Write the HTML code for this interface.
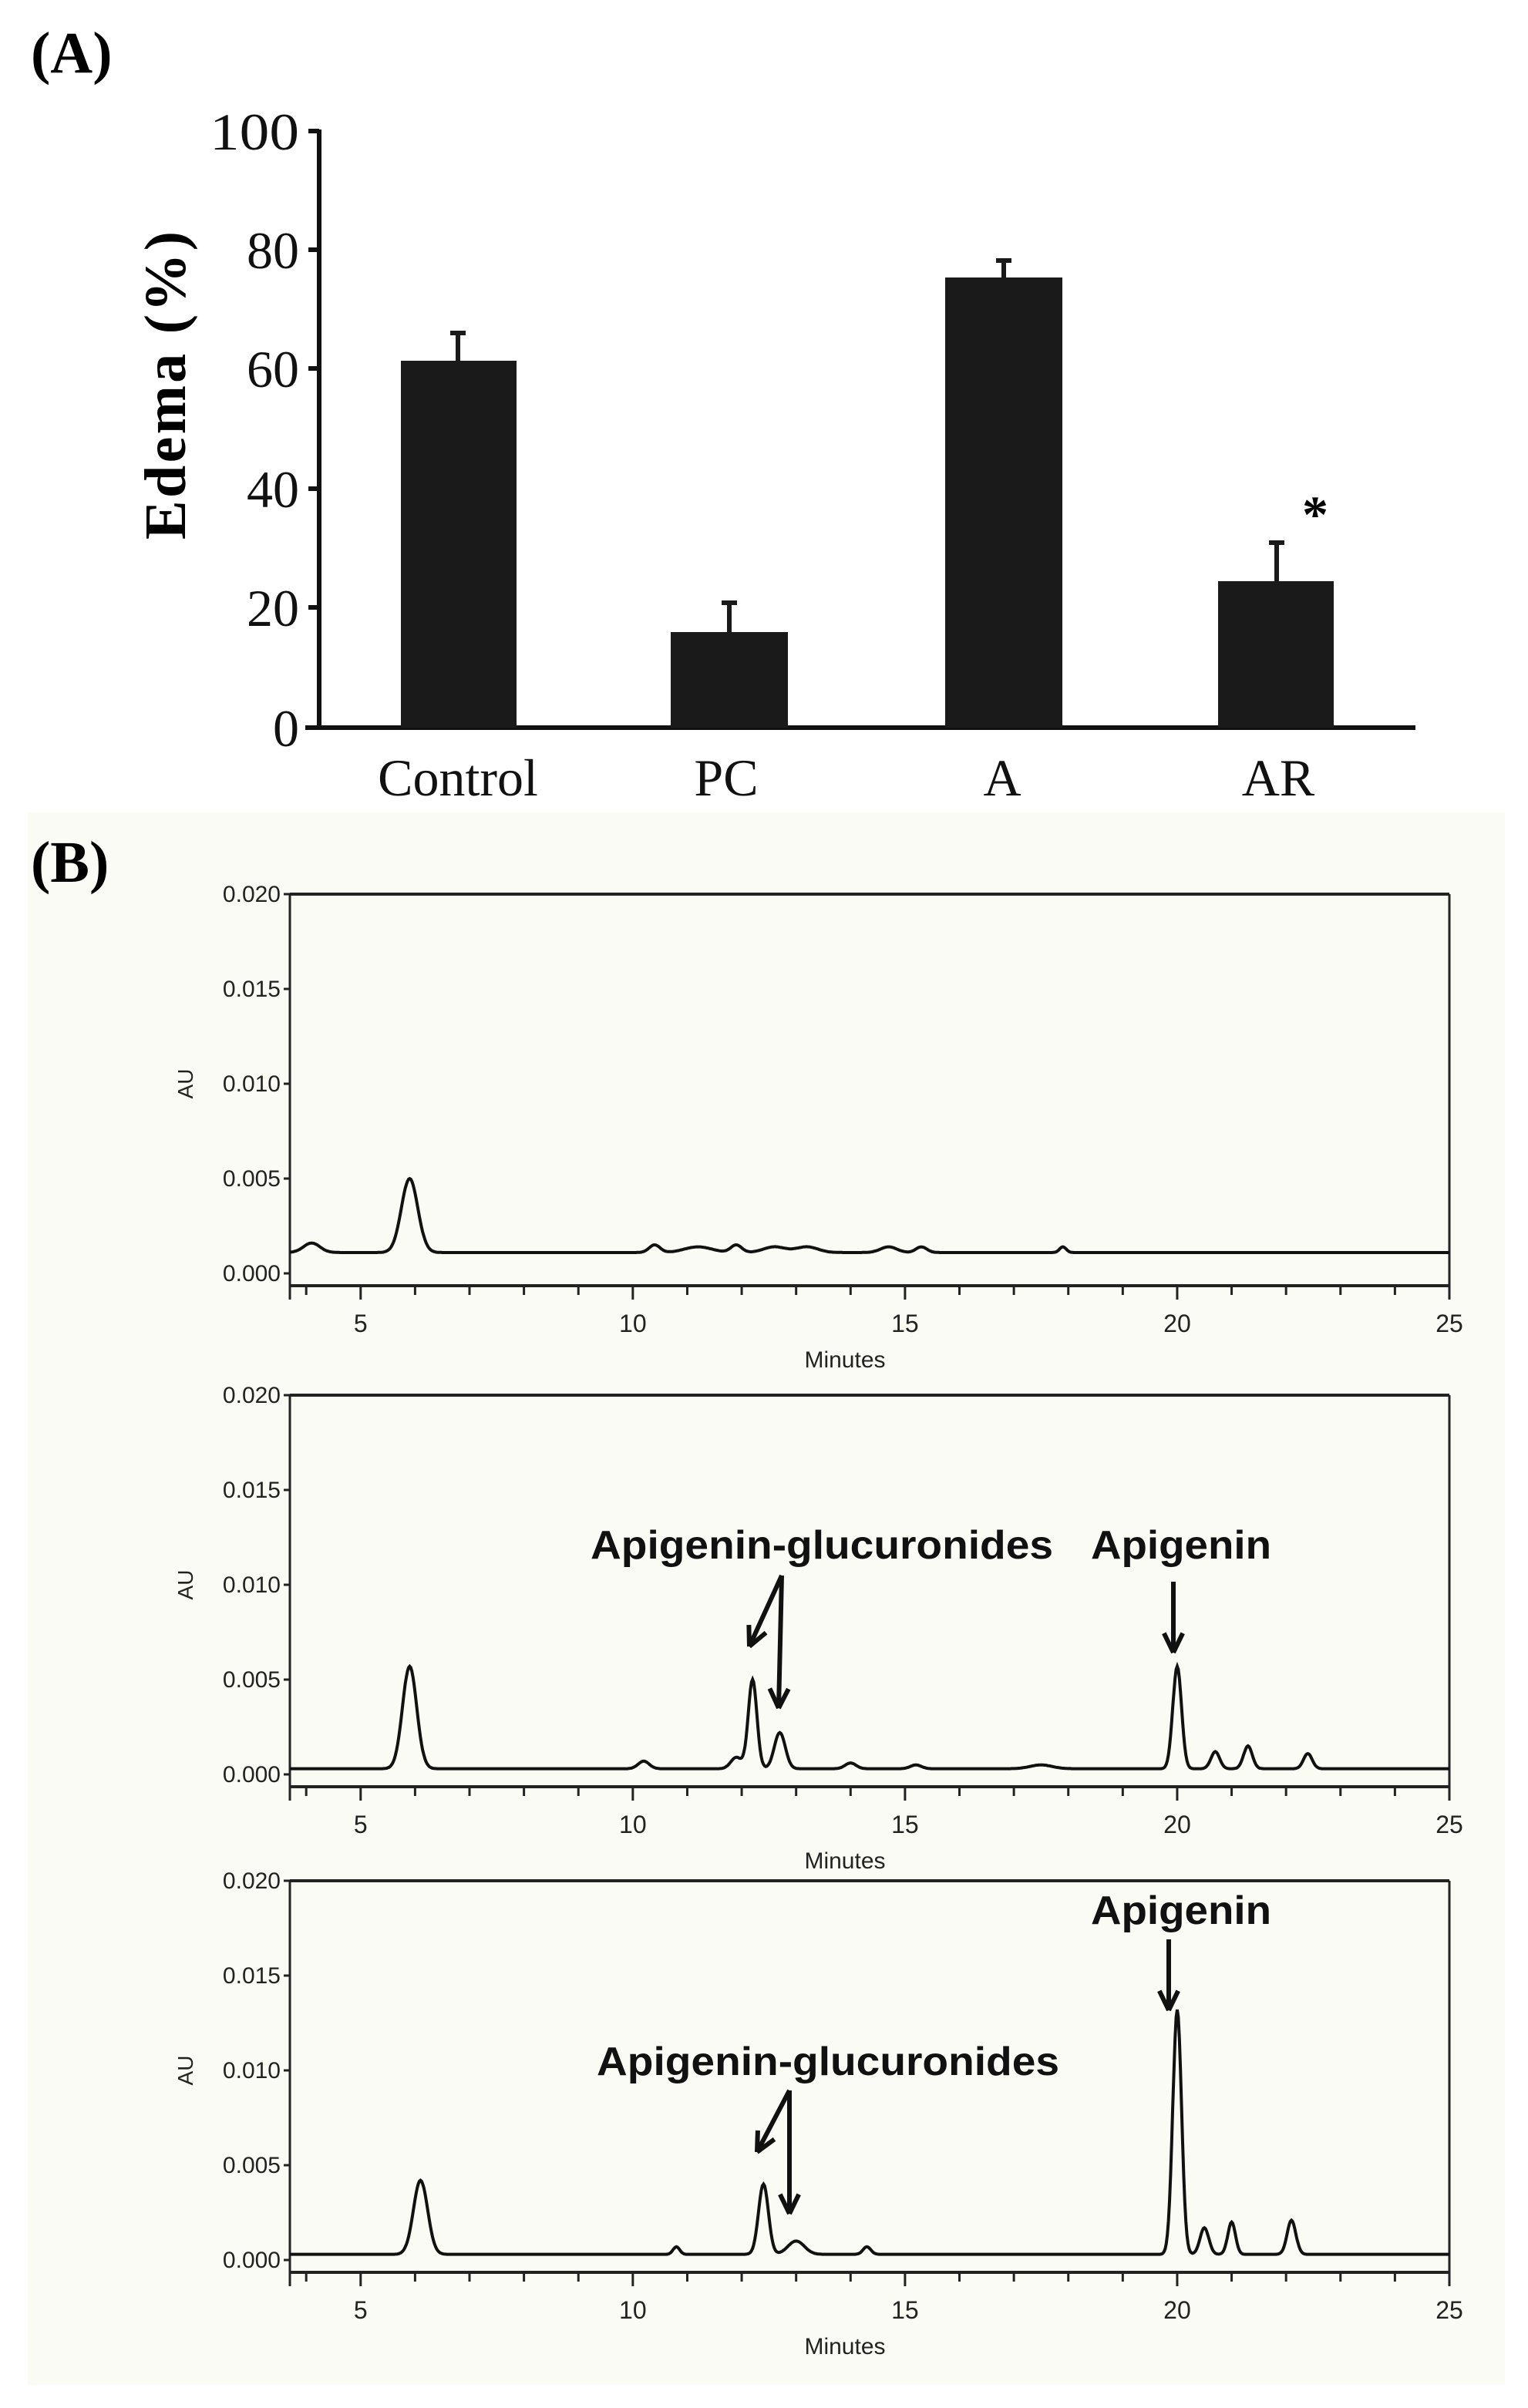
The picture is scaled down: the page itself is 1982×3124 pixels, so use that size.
<!DOCTYPE html>
<html><head><meta charset="utf-8">
<style>html,body{margin:0;padding:0;background:#fff}svg{display:block}</style></head>
<body>
<svg id="s" width="1982" height="3124" viewBox="0 0 991 1562" xmlns="http://www.w3.org/2000/svg" font-family="Liberation Serif, serif">
<rect width="991" height="1562" fill="#fff"/>
<text x="20" y="47" font-size="38" font-weight="bold">(A)</text>
<g stroke="#111" stroke-width="3" fill="none">
<line x1="207" y1="84" x2="207" y2="473"/>
<line x1="198" y1="472" x2="918" y2="472"/>
<line x1="200" y1="85" x2="207" y2="85"/>
<line x1="200" y1="162" x2="207" y2="162"/>
<line x1="200" y1="239" x2="207" y2="239"/>
<line x1="200" y1="317" x2="207" y2="317"/>
<line x1="200" y1="394" x2="207" y2="394"/>
</g>
<g font-size="34" text-anchor="end" fill="#111">
<text x="194" y="97" textLength="58" lengthAdjust="spacingAndGlyphs">100</text><text x="194" y="174">80</text><text x="194" y="251">60</text>
<text x="194" y="329">40</text><text x="194" y="406">20</text><text x="194" y="484">0</text>
</g>
<text transform="translate(120,250) rotate(-90)" font-size="38" font-weight="bold" text-anchor="middle" textLength="200" lengthAdjust="spacing">Edema  (%)</text>
<g fill="#1a1a1a">
<rect x="260" y="234" width="75" height="238"/>
<rect x="435" y="410" width="76" height="62"/>
<rect x="613" y="180" width="76" height="292"/>
<rect x="790" y="377" width="75" height="95"/>
</g>
<g stroke="#1a1a1a" stroke-width="3">
<line x1="297" y1="234" x2="297" y2="216"/><line x1="292" y1="216" x2="302" y2="216"/>
<line x1="473" y1="410" x2="473" y2="391"/><line x1="468" y1="391" x2="478" y2="391"/>
<line x1="651" y1="180" x2="651" y2="169"/><line x1="646" y1="169" x2="656" y2="169"/>
<line x1="828" y1="377" x2="828" y2="352"/><line x1="823" y1="352" x2="833" y2="352"/>
</g>
<text x="853" y="345" font-size="34" font-weight="bold" text-anchor="middle">*</text>
<g font-size="34" text-anchor="middle" fill="#111">
<text x="297" y="516">Control</text><text x="471" y="516">PC</text><text x="650" y="516">A</text><text x="829" y="516">AR</text>
</g>
<rect x="18" y="527" width="958" height="1020" fill="#fbfbf6"/>
<text x="20" y="572" font-size="38" font-weight="bold">(B)</text>
<g id="charts"></g>
</svg>
<script>
var NS="http://www.w3.org/2000/svg",g=document.getElementById("charts");
function el(t,a,txt){var e=document.createElementNS(NS,t);for(var k in a)e.setAttribute(k,a[k]);if(txt!=null)e.textContent=txt;g.appendChild(e);return e;}
var charts=[
 {top:580,zero:826,base:0.0011,peaks:[[4.1,0.0005,0.15],[5.9,0.0039,0.15],[10.4,0.0004,0.1],[11.2,0.0003,0.25],[11.9,0.0004,0.1],[12.6,0.0003,0.2],[13.2,0.0003,0.2],[14.7,0.0003,0.15],[15.3,0.0003,0.1],[17.9,0.0003,0.06]]},
 {top:905,zero:1151,base:0.0003,peaks:[[5.9,0.0054,0.13],[10.2,0.0004,0.1],[11.9,0.0006,0.1],[12.2,0.0047,0.08],[12.7,0.0019,0.1],[14,0.0003,0.1],[15.2,0.0002,0.1],[17.5,0.0002,0.2],[20.0,0.0054,0.08],[20.7,0.0009,0.08],[21.3,0.0012,0.08],[22.4,0.0008,0.08]]},
 {top:1220,zero:1466,base:0.0003,peaks:[[6.1,0.0039,0.13],[10.8,0.0004,0.06],[12.4,0.0037,0.09],[13.0,0.0007,0.15],[14.3,0.0004,0.07],[20.0,0.0129,0.08],[20.5,0.0014,0.08],[21.0,0.0017,0.07],[22.1,0.0018,0.08]]}
];
var X0=188,X1=940,tmin=3.7,tmax=25;
function xf(t){return X0+(t-tmin)/(tmax-tmin)*(X1-X0);}
charts.forEach(function(c,i){
 var k=(c.zero-c.top)/0.020,yf=function(v){return c.zero-v*k;},bot=c.zero+8;
 el("line",{x1:X0,y1:c.top,x2:X1,y2:c.top,stroke:"#222","stroke-width":2});
 el("line",{x1:X0,y1:bot,x2:X1,y2:bot,stroke:"#222","stroke-width":2});
 el("line",{x1:X0,y1:c.top,x2:X0,y2:bot+9,stroke:"#222","stroke-width":1.5});
 el("line",{x1:X1,y1:c.top,x2:X1,y2:bot+9,stroke:"#222","stroke-width":1.5});
 for(var j=0;j<=4;j++){var v=j*0.005,y=yf(v);
  el("line",{x1:X0-4,y1:y,x2:X0,y2:y,stroke:"#222","stroke-width":1.5});
  el("text",{x:X0-6,y:y+5,"font-size":15,"text-anchor":"end","font-family":"Liberation Sans, sans-serif",fill:"#222"},v.toFixed(3));}
 for(var t=4;t<=25;t++){el("line",{x1:xf(t),y1:bot,x2:xf(t),y2:bot+(t%5==0?9:6),stroke:"#222","stroke-width":1.5});
  if(t%5==0)el("text",{x:xf(t),y:bot+30,"font-size":16,"text-anchor":"middle","font-family":"Liberation Sans, sans-serif",fill:"#222"},t);}
 el("text",{x:548,y:bot+53,"font-size":15,"text-anchor":"middle","font-family":"Liberation Sans, sans-serif",fill:"#222"},"Minutes");
 el("text",{transform:"translate(125,"+yf(0.010)+") rotate(-90)","font-size":14,"text-anchor":"middle","font-family":"Liberation Sans, sans-serif",fill:"#222"},"AU");
 var d="";for(var t=tmin;t<=tmax;t+=0.02){var v=c.base;c.peaks.forEach(function(p){v+=p[1]*Math.exp(-Math.pow((t-p[0])/p[2],2)/2);});
  d+=(d?"L":"M")+xf(t).toFixed(1)+" "+yf(v).toFixed(1);}
 el("path",{d:d,fill:"none",stroke:"#111","stroke-width":2});
});
function arrow(x1,y1,x2,y2){el("line",{x1:x1,y1:y1,x2:x2,y2:y2,stroke:"#111","stroke-width":3});
 var a=Math.atan2(y2-y1,x2-x1),L=14,w=0.45;
 el("path",{d:"M"+x2+" "+y2+"L"+(x2-L*Math.cos(a-w))+" "+(y2-L*Math.sin(a-w))+"M"+x2+" "+y2+"L"+(x2-L*Math.cos(a+w))+" "+(y2-L*Math.sin(a+w)),stroke:"#111","stroke-width":3,fill:"none"});}
function lab(x,y,s,w){el("text",{x:x,y:y,"font-size":26,"font-weight":"bold","text-anchor":"middle","font-family":"Liberation Sans, sans-serif",fill:"#111",textLength:w,lengthAdjust:"spacingAndGlyphs"},s);}
lab(533,1011,"Apigenin-glucuronides",300);lab(766,1011,"Apigenin",117);
arrow(507,1022,486,1068);arrow(507,1022,505,1108);arrow(761,1026,761,1072);
lab(766,1248,"Apigenin",117);lab(537,1346,"Apigenin-glucuronides",300);
arrow(758,1258,758,1304);arrow(512,1356,491,1396);arrow(512,1356,512,1436);
</script>
</body></html>
